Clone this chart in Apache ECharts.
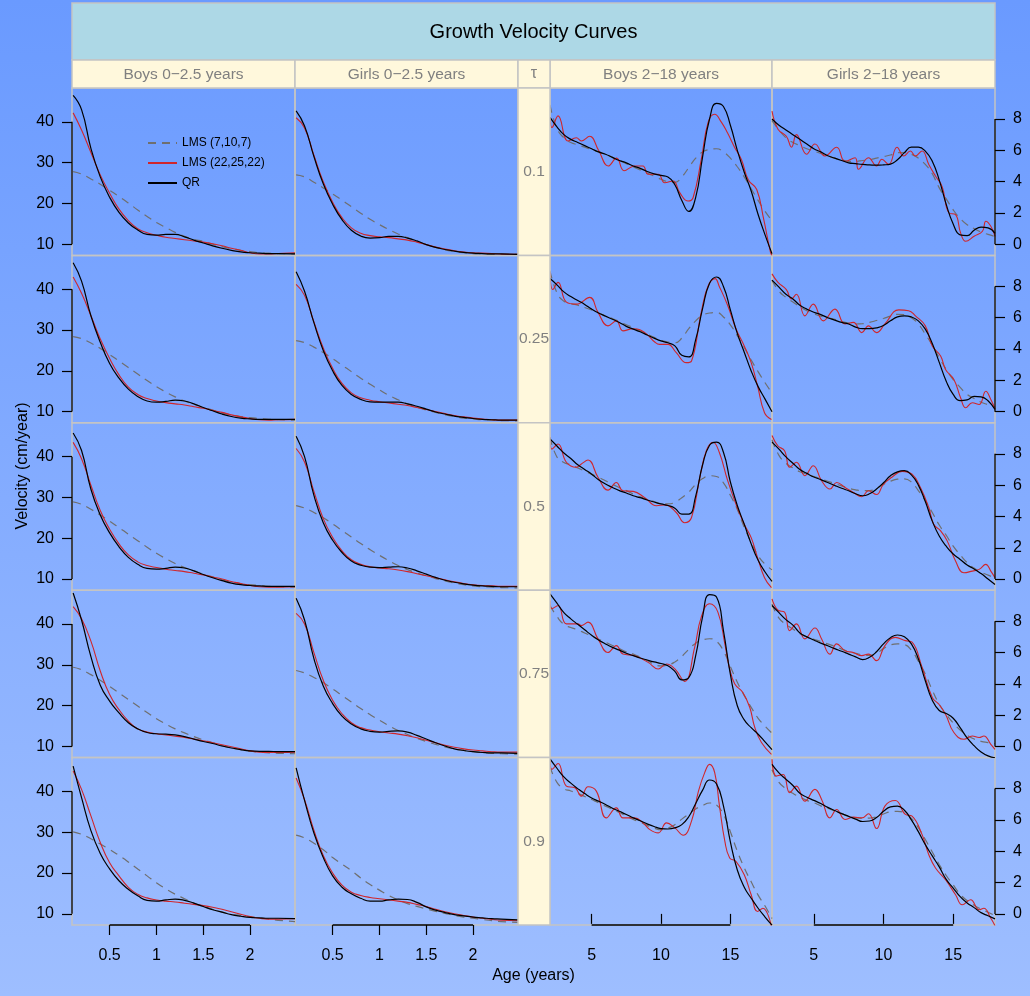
<!DOCTYPE html>
<html><head><meta charset="utf-8">
<script src="https://cdn.jsdelivr.net/npm/echarts@6/dist/echarts.min.js"></script>
<style>html,body{margin:0;padding:0;background:#fff;}#c{width:1030px;height:996px;}</style>
</head><body><div id="c"></div>
<script>
// ---------------- text ----------------
const chartTitle = 'Growth Velocity Curves';
const panelTitles = ['Boys 0\u22122.5 years', 'Girls 0\u22122.5 years', 'Boys 2\u221218 years', 'Girls 2\u221218 years'];
const tauLabels = ['0.1', '0.25', '0.5', '0.75', '0.9'];
const seriesNames = ['LMS (7,10,7)', 'LMS (22,25,22)', 'QR'];
const xTitle = 'Age (years)';
const yTitle = 'Velocity (cm/year)';

// ---------------- axes ----------------
const infantAgeTicks = [0.5, 1, 1.5, 2];
const childAgeTicks = [5, 10, 15];
const infantVelTicks = [10, 20, 30, 40];
const childVelTicks = [0, 2, 4, 6, 8];

// ---------------- ages ----------------
const ageInfant = [0.11,0.2,0.3,0.4,0.5,0.6,0.7,0.8,0.9,1.0,1.1,1.2,1.3,1.4,1.5,1.6,1.7,1.8,1.9,2.0,2.1,2.2,2.3,2.48];
const ageChild = [2,2.5,3,3.5,4,4.5,5,5.5,6,6.5,7,7.5,8,8.5,9,9.5,10,10.5,11,11.5,12,12.5,13,13.5,14,14.5,15,15.5,16,16.5,17,17.5,18];

// ---------------- Boys 0-2.5 (rows: tau 0.1 .. 0.9) ----------------
const lmsCoarseBoysInfant = [
  [27.8,27.2,26.0,24.7,23.2,21.7,20.1,18.4,16.8,15.3,14.1,12.9,11.9,11.2,10.7,10.0,9.4,8.9,8.5,8.2,7.9,7.8,7.7,7.6],
  [28.4,27.9,26.8,25.5,24.0,22.4,20.8,19.2,17.6,16.1,14.8,13.6,12.6,11.8,11.1,10.4,9.7,9.2,8.8,8.5,8.3,8.1,8.0,7.9],
  [28.9,28.3,27.1,25.7,24.2,22.6,21.0,19.4,17.8,16.3,15.0,13.8,12.8,12.0,11.2,10.5,9.8,9.3,8.9,8.6,8.4,8.2,8.1,8.0],
  [29.4,28.8,27.6,26.2,24.7,23.1,21.5,19.9,18.3,16.8,15.5,14.3,13.3,12.4,11.6,10.9,10.2,9.6,9.2,8.8,8.6,8.4,8.3,8.2],
  [30.1,29.5,28.4,27.1,25.8,24.3,22.7,21.0,19.3,17.6,16.1,14.8,13.7,12.6,11.8,11.1,10.4,9.9,9.6,9.3,9.0,8.7,8.4,8.1]
];
const lmsFineBoysInfant = [
  [42.2,38.0,32.5,27.0,22.5,18.6,15.8,13.8,12.8,12.2,11.7,11.4,11.1,10.8,10.5,10.1,9.6,9.0,8.5,7.9,7.6,7.6,7.7,7.9],
  [43.0,39.0,33.5,27.8,23.0,19.0,16.0,14.2,13.2,12.6,12.2,11.9,11.6,11.2,10.8,10.3,9.8,9.2,8.7,8.3,8.0,7.9,8.0,8.1],
  [43.5,39.5,33.0,26.8,22.2,18.6,15.9,14.2,13.3,12.8,12.4,12.1,11.8,11.4,11.0,10.5,10.0,9.4,8.9,8.4,8.1,8.0,8.0,8.1],
  [44.3,41.3,35.8,28.5,22.7,19.0,16.2,14.3,13.5,13.1,12.8,12.5,12.2,11.8,11.4,10.9,10.4,9.9,9.4,8.9,8.6,8.5,8.5,8.6],
  [45.0,40.5,34.0,27.5,22.5,19.3,16.5,14.8,13.9,13.4,13.1,12.9,12.6,12.3,12.0,11.6,11.1,10.5,9.9,9.3,8.9,8.7,8.7,8.8]
];
const qrBoysInfant = [
  [46.5,43.0,33.5,26.5,21.5,17.8,15.2,13.5,12.4,12.2,12.4,12.4,11.8,11.0,10.3,9.6,9.0,8.5,8.1,7.9,7.8,7.7,7.7,7.6],
  [46.5,42.0,33.5,27.0,21.8,18.2,15.5,13.7,12.6,12.3,12.5,12.8,12.6,11.9,11.0,10.2,9.4,8.8,8.4,8.2,8.1,8.1,8.1,8.1],
  [45.8,41.5,32.0,25.7,21.3,17.9,15.3,13.6,12.6,12.4,12.6,12.9,12.7,12.0,11.1,10.3,9.6,9.0,8.6,8.4,8.3,8.2,8.2,8.2],
  [47.6,41.0,32.0,25.0,21.1,18.2,15.8,14.3,13.4,13.1,13.0,12.8,12.4,11.8,11.2,10.7,10.1,9.6,9.2,8.9,8.8,8.8,8.7,8.7],
  [46.2,38.5,30.4,24.8,21.0,18.1,16.0,14.4,13.3,13.1,13.4,13.6,13.3,12.6,11.8,11.0,10.4,9.8,9.4,9.1,9.0,8.9,8.9,8.8]
];

// ---------------- Girls 0-2.5 ----------------
const lmsCoarseGirlsInfant = [
  [27.0,26.5,25.2,23.8,22.3,20.8,19.2,17.6,16.1,14.8,13.6,12.5,11.6,10.7,9.9,9.2,8.6,8.2,7.9,7.7,7.6,7.5,7.5,7.5],
  [27.4,26.9,25.8,24.5,23.0,21.4,19.8,18.2,16.7,15.3,14.0,12.9,11.9,11.1,10.4,9.8,9.2,8.8,8.4,8.2,8.0,7.9,7.8,7.7],
  [28.0,27.4,26.3,25.0,23.5,21.9,20.3,18.7,17.2,15.8,14.5,13.3,12.3,11.5,10.8,10.1,9.5,9.0,8.6,8.3,8.1,8.0,7.9,7.8],
  [28.6,28.0,26.9,25.6,24.1,22.5,20.9,19.3,17.8,16.4,15.1,13.9,12.9,12.0,11.2,10.5,9.9,9.4,9.0,8.7,8.5,8.3,8.2,8.1],
  [29.3,28.6,27.3,25.7,23.8,22.2,20.6,18.8,17.2,15.8,14.5,13.4,12.5,11.8,11.2,10.6,10.1,9.6,9.2,8.9,8.6,8.3,8.1,7.9]
];
const lmsFineGirlsInfant = [
  [41.0,38.5,31.8,25.3,20.3,16.5,14.0,12.7,12.1,11.8,11.6,11.3,11.0,10.5,9.9,9.3,8.8,8.4,8.1,7.9,7.8,7.7,7.6,7.5],
  [41.2,38.5,32.0,25.6,20.6,16.9,14.6,13.4,12.8,12.4,12.1,11.8,11.5,11.0,10.5,10.0,9.5,9.0,8.7,8.4,8.2,8.0,7.9,7.9],
  [42.0,38.7,31.5,24.8,20.2,16.9,14.7,13.6,13.0,12.7,12.5,12.2,11.8,11.3,10.8,10.3,9.8,9.3,8.9,8.6,8.4,8.3,8.2,8.2],
  [42.6,40.0,33.0,26.2,21.3,18.0,15.8,14.6,14.0,13.6,13.3,13.0,12.6,12.1,11.5,10.9,10.3,9.8,9.4,9.1,8.9,8.7,8.6,8.6],
  [43.3,38.0,30.5,24.3,20.0,17.0,15.3,14.5,14.0,13.7,13.4,13.1,12.8,12.3,11.8,11.1,10.5,10.0,9.6,9.2,8.9,8.6,8.4,8.3]
];
const qrGirlsInfant = [
  [42.7,39.0,31.5,24.8,19.8,16.0,13.4,12.0,11.5,11.6,11.9,11.9,11.5,10.8,9.9,9.2,8.7,8.3,8.0,7.8,7.7,7.6,7.6,7.5],
  [44.3,39.5,31.8,25.0,20.0,16.4,14.2,13.0,12.4,12.3,12.3,12.3,11.9,11.3,10.6,9.9,9.4,8.9,8.6,8.3,8.1,8.0,7.9,7.9],
  [45.0,40.0,30.5,23.8,19.5,16.5,14.4,13.4,12.9,12.8,12.9,13.0,12.7,12.0,11.2,10.4,9.7,9.2,8.8,8.5,8.3,8.2,8.1,8.1],
  [46.3,41.0,31.5,24.8,20.5,17.4,15.5,14.3,13.7,13.5,13.7,13.8,13.5,12.7,11.8,10.9,10.1,9.4,9.0,8.7,8.5,8.4,8.4,8.3],
  [45.8,37.8,29.8,23.8,19.3,16.5,14.9,13.8,13.1,13.1,13.4,13.6,13.5,12.8,11.7,10.9,10.3,9.8,9.5,9.2,9.0,8.8,8.7,8.5]
];

// ---------------- Boys 2-18 ----------------
const lmsCoarseBoysChild = [
  [8.9,7.4,6.8,6.5,6.35,6.2,6.05,5.9,5.75,5.55,5.35,5.15,4.95,4.75,4.55,4.35,4.15,4.0,3.95,4.3,4.9,5.5,5.9,6.05,6.1,5.9,5.5,4.95,4.3,3.55,2.8,2.1,1.5],
  [9.0,7.6,7.05,6.9,6.8,6.65,6.5,6.3,6.12,5.95,5.75,5.55,5.37,5.15,4.95,4.75,4.55,4.45,4.4,4.7,5.3,5.8,6.15,6.3,6.33,6.05,5.55,4.85,4.1,3.3,2.55,1.85,1.2],
  [9.06,7.8,7.45,7.3,7.1,6.9,6.7,6.5,6.28,6.05,5.85,5.65,5.43,5.25,5.1,4.95,4.82,4.8,4.9,5.2,5.55,6.05,6.42,6.6,6.55,6.15,5.35,4.45,3.3,2.35,1.5,0.95,0.6],
  [9.0,8.3,7.8,7.6,7.45,7.25,7.05,6.85,6.66,6.45,6.25,6.05,5.9,5.7,5.5,5.25,5.15,5.2,5.4,5.75,6.2,6.6,6.8,6.88,6.72,6.1,5.1,4.1,3.25,2.5,1.8,1.3,0.85],
  [9.4,8.4,8.0,7.85,7.7,7.5,7.3,7.1,6.88,6.68,6.47,6.25,6.03,5.85,5.65,5.48,5.38,5.48,5.7,6.05,6.38,6.7,6.92,7.08,6.95,6.35,5.25,4.0,2.95,2.05,1.2,0.5,-0.3]
];
const qrBoysChild = [
  [8.1,7.5,7.0,6.7,6.5,6.3,6.1,5.9,5.75,5.55,5.35,5.2,5.0,4.85,4.65,4.5,4.4,4.3,3.8,2.8,2.1,3.0,5.6,8.0,9.0,8.8,7.6,6.0,4.6,3.4,1.9,0.6,-0.6],
  [8.5,8.1,7.65,7.35,7.1,6.85,6.55,6.3,6.1,5.9,5.7,5.45,5.27,5.1,4.9,4.7,4.52,4.4,4.2,3.6,3.5,4.6,6.6,8.2,8.6,8.0,6.5,5.0,3.8,2.6,1.6,0.8,0.0],
  [8.95,8.5,8.05,7.7,7.3,7.0,6.7,6.35,6.07,5.85,5.65,5.5,5.32,5.2,5.05,4.92,4.8,4.7,4.53,4.15,4.15,5.3,7.3,8.55,8.75,8.1,6.2,4.7,3.5,2.25,1.2,0.45,-0.15],
  [9.75,9.15,8.55,8.15,7.8,7.45,7.1,6.8,6.55,6.33,6.15,5.95,5.8,5.65,5.52,5.4,5.3,5.15,4.8,4.25,4.4,5.8,8.3,9.7,9.55,7.4,4.6,2.6,1.7,1.2,0.78,0.3,-0.2],
  [9.9,9.3,8.75,8.35,8.0,7.68,7.4,7.2,6.99,6.75,6.55,6.35,6.13,5.95,5.75,5.58,5.45,5.42,5.49,5.7,6.2,7.05,7.9,8.55,8.3,6.9,4.6,2.8,1.7,1.0,0.36,-0.2,-0.72]
];
const lmsFineBoysChild = [
  [[2,8.1],[2.14,7.46],[2.58,8.2],[3.3,6.6],[3.9,6.8],[4.26,6.6],[4.86,6.9],[5.5,6.0],[6.2,5.0],[6.8,5.5],[7.34,4.7],[8.1,5.0],[8.7,5.0],[9.07,4.47],[9.8,4.47],[10.27,3.93],[10.87,4.04],[11.35,3.3],[11.95,2.76],[12.31,2.97],[12.9,5.4],[13.4,7.8],[13.87,8.3],[14.35,7.8],[14.8,7.1],[15.3,6.2],[15.8,5.4],[16.3,4.1],[16.9,3.5],[17.4,1.6],[17.9,-0.55],[18,-0.7]],
  [[2,8.9],[2.2,7.8],[2.58,8.26],[3.18,7.0],[3.9,6.87],[4.86,7.3],[5.46,6.34],[6.18,5.48],[6.78,5.8],[7.26,5.16],[8,5.3],[8.83,5.05],[9.55,4.45],[9.9,4.3],[10.5,4.3],[11.1,3.77],[11.83,3.13],[12.2,3.24],[12.9,6.34],[13.4,8.04],[13.9,8.5],[14.2,8.0],[14.8,6.8],[15.4,5.3],[16.0,4.2],[16.5,3.13],[16.96,1.64],[17.46,-0.07],[17.96,-0.5]],
  [[2,9.06],[2.14,8.3],[2.58,8.63],[3.18,7.46],[3.9,7.14],[4.26,7.35],[4.74,7.6],[5.46,6.5],[6.18,5.68],[6.78,6.17],[7.26,5.64],[8,5.6],[8.83,5.2],[9.67,4.68],[10.27,4.74],[11.1,4.25],[11.7,3.6],[12.2,3.93],[12.8,6.5],[13.27,8.2],[13.75,8.74],[14.2,8.1],[14.8,6.3],[15.4,4.79],[16.0,3.5],[16.5,2.65],[16.96,1.37],[17.46,0.09],[17.96,-0.55]],
  [[2,9.33],[2.14,8.8],[2.58,9.0],[3.18,7.83],[4,7.83],[4.26,7.72],[4.74,7.94],[5.46,6.87],[6.18,6.0],[6.78,6.44],[7.26,5.9],[8.1,5.8],[9.07,5.37],[9.8,4.95],[10.4,5.27],[11.0,4.95],[11.7,4.16],[12.43,6.34],[12.9,8.26],[13.5,9.11],[14.1,8.58],[14.6,6.55],[14.95,4.95],[15.32,3.99],[15.9,3.45],[16.4,2.49],[16.76,1.21],[17.24,0.25],[17.96,-0.5]],
  [[2,9.87],[2.14,9.23],[2.58,9.6],[3.18,8.16],[3.8,8.05],[4.26,7.52],[4.74,8.12],[5.34,7.84],[6.06,6.13],[6.78,6.77],[7.26,6.13],[8.1,6.13],[8.7,5.81],[9.2,5.38],[9.8,5.17],[10.4,5.81],[11.0,5.49],[11.6,5.02],[12.2,5.92],[12.7,7.84],[13.15,9.02],[13.5,9.55],[13.87,9.02],[14.2,6.99],[14.6,4.64],[14.95,3.57],[15.4,3.36],[16.0,2.5],[16.5,1.22],[16.96,0.15],[17.34,0.36],[17.96,-0.8]]
];

// ---------------- Girls 2-18 ----------------
const lmsCoarseGirlsChild = [
  [7.9,7.3,6.8,6.5,6.3,6.1,5.95,5.8,5.65,5.5,5.4,5.3,5.3,5.35,5.4,5.5,5.6,5.7,5.85,5.85,5.75,5.5,5.1,4.5,3.6,2.9,2.2,1.65,1.25,1.0,0.78,0.63,0.5],
  [8.4,7.7,7.3,7.0,6.7,6.45,6.25,6.1,6.0,5.9,5.75,5.65,5.6,5.62,5.7,5.82,5.95,6.1,6.22,6.2,6.0,5.6,4.95,4.25,3.45,2.7,2.05,1.55,1.1,0.85,0.6,0.45,0.3],
  [8.9,7.9,7.4,7.1,6.85,6.7,6.55,6.4,6.25,6.1,5.95,5.8,5.7,5.65,5.65,5.8,6.05,6.25,6.38,6.4,6.2,5.65,5.0,4.25,3.45,2.8,2.1,1.55,1.05,0.7,0.45,0.25,0.08],
  [9.1,8.2,7.8,7.5,7.2,7.0,6.85,6.7,6.55,6.4,6.22,6.05,5.95,5.85,5.82,5.95,6.25,6.48,6.55,6.5,6.15,5.45,4.63,3.6,2.7,2.05,1.5,1.05,0.72,0.48,0.33,0.25,0.18],
  [9.2,8.4,8.0,7.7,7.45,7.25,7.1,6.9,6.75,6.58,6.4,6.22,6.13,6.1,6.12,6.2,6.38,6.52,6.55,6.45,6.1,5.5,4.75,3.95,3.15,2.45,1.85,1.25,0.85,0.55,0.3,0.1,-0.1]
];
const qrGirlsChild = [
  [8.0,7.6,7.3,7.0,6.7,6.4,6.1,5.9,5.65,5.5,5.35,5.2,5.15,5.1,5.07,5.05,5.07,5.12,5.4,5.85,6.2,6.2,5.95,5.3,4.1,2.55,1.3,0.6,0.55,0.9,1.1,1.05,0.7],
  [8.4,7.95,7.5,7.2,6.8,6.55,6.35,6.2,6.0,5.85,5.7,5.6,5.4,5.3,5.3,5.35,5.5,5.8,6.05,6.12,6.05,5.8,5.27,4.35,3.15,1.95,1.1,0.7,0.75,0.98,0.95,0.7,0.14],
  [8.75,8.3,7.8,7.4,7.0,6.75,6.52,6.35,6.17,5.98,5.8,5.64,5.45,5.32,5.45,5.75,6.15,6.6,6.85,6.92,6.65,6.0,4.95,3.7,2.75,2.1,1.6,1.25,0.9,0.65,0.35,0.0,-0.35],
  [9.0,8.55,8.1,7.75,7.25,7.0,6.8,6.6,6.43,6.25,6.08,5.9,5.72,5.55,5.7,6.05,6.55,6.95,7.12,7.0,6.55,5.6,4.2,2.95,2.3,2.1,1.8,1.2,0.55,0.05,-0.35,-0.6,-0.72],
  [9.55,9.0,8.6,8.2,7.7,7.45,7.25,7.05,6.8,6.6,6.4,6.23,6.05,5.9,5.93,6.15,6.55,6.83,6.88,6.62,6.0,5.25,4.42,3.7,3.0,2.2,1.65,1.1,0.7,0.4,0.08,-0.12,-0.32]
];
const lmsFineGirlsChild = [
  [[2,8.5],[2.43,7.35],[3.03,6.9],[3.4,6.2],[3.75,7.0],[4.48,5.75],[5.08,6.4],[5.8,5.64],[6.64,6.2],[7.24,5.3],[7.96,5.53],[8.2,4.79],[8.92,5.53],[9.5,5.0],[9.88,5.43],[10.37,5.1],[10.97,6.2],[11.45,5.64],[11.93,5.96],[12.29,5.64],[12.77,5.96],[13.25,5.1],[13.73,4.36],[14.2,3.7],[14.7,2.0],[15.17,1.9],[15.53,0.73],[15.9,0.19],[16.5,0.51],[17.1,0.83],[17.34,1.47],[17.7,1.15],[18,0.51]],
  [[2,8.8],[2.43,8.26],[3.03,7.8],[3.4,7.2],[3.75,7.5],[4.36,6.12],[4.96,6.87],[5.68,5.8],[6.52,6.55],[7.24,5.6],[7.84,5.7],[8.44,5.05],[8.92,5.48],[9.5,5.05],[10.1,5.6],[11.1,6.5],[11.8,6.45],[12.29,6.12],[13.0,5.48],[13.5,4.2],[14.1,3.56],[14.45,2.7],[15.05,2.06],[15.53,0.89],[15.9,0.25],[16.37,0.57],[16.86,0.46],[17.34,1.3],[17.7,0.78],[18,0.18]],
  [[2,9.17],[2.43,8.5],[2.9,8.2],[3.27,7.14],[3.75,7.46],[4.36,6.6],[4.96,7.24],[5.56,6.28],[6.16,5.75],[6.64,6.17],[7.24,5.85],[7.84,5.53],[8.44,5.26],[8.92,5.64],[9.5,5.4],[10.0,6.07],[10.6,6.5],[11.33,6.88],[12.05,6.7],[12.65,5.85],[13.25,4.57],[13.6,3.5],[14.1,3.08],[14.57,2.44],[15.17,1.15],[15.77,0.4],[16.37,0.51],[16.86,0.62],[17.34,0.94],[17.7,0.51],[18,0.09]],
  [[2,9.43],[2.43,8.7],[2.9,8.58],[3.27,7.4],[3.75,7.83],[4.36,6.87],[5.08,7.57],[5.56,6.87],[6.16,5.9],[6.64,6.55],[7.24,6.12],[7.84,6.0],[8.44,5.8],[8.92,5.9],[9.5,5.48],[10.1,6.44],[10.85,6.97],[11.57,6.76],[12.05,6.66],[12.77,5.05],[13.5,3.13],[13.97,2.7],[14.45,2.06],[15.05,0.89],[15.77,0.46],[16.37,0.67],[16.86,0.57],[17.2,0.67],[17.7,0.14],[18,-0.18]],
  [[2,9.87],[2.31,8.8],[2.8,8.9],[3.27,7.74],[3.75,8.16],[4.36,7.2],[5.08,7.95],[5.56,7.31],[6.16,6.13],[6.64,6.67],[7.24,6.03],[7.84,6.18],[8.44,6.13],[8.92,6.39],[9.5,5.45],[10.1,6.88],[10.85,7.24],[11.57,6.35],[12.05,6.24],[12.77,5.06],[13.25,3.78],[13.73,2.93],[14.45,2.18],[15.17,1.22],[15.65,0.58],[16.25,0.9],[16.86,0.26],[17.2,0.36],[17.7,-0.28],[18,-0.75]]
];

// ---------------- layout ----------------
const FONT = '"Liberation Sans", Arial, Helvetica, sans-serif';
const colLeft = [72, 295, 550, 772];
const colWidth = [223, 223, 222, 223];
const rowTop0 = 88, rowH = 167.4, nRows = 5;
const tauX = 518, tauW = 32;
const stripTop = 60, stripH = 28;
const titleTop = 3;
const infantXRange = [0.098, 2.48], childXRange = [2, 18];
const infantYRange = [7.25, 48.3], childYRange = [-0.71, 9.98];
const borderCol = '#c4c4c4';
const stripFill = '#fff8dc';
const stripText = '#808080';

const zip = (xs, ys) => xs.map((x, i) => [x, ys[i]]);

const grids = [], xAxes = [], yAxes = [], series = [];
for (let r = 0; r < nRows; r++) {
  for (let c = 0; c < 4; c++) {
    const gi = r * 4 + c;
    const infant = c < 2;
    grids.push({ left: colLeft[c], top: rowTop0 + r * rowH, width: colWidth[c], height: rowH,
      show: true, borderColor: borderCol, borderWidth: 1.5, backgroundColor: 'transparent' });
    const bottomRow = r === nRows - 1;
    xAxes.push({ gridIndex: gi, type: 'value',
      min: infant ? infantXRange[0] : childXRange[0], max: infant ? infantXRange[1] : childXRange[1],
      axisLine: { show: false }, splitLine: { show: false },
      axisTick: { show: bottomRow, customValues: infant ? infantAgeTicks : childAgeTicks, length: 10, inside: false, lineStyle: { color: '#000', width: 1.2 } },
      axisLabel: { show: bottomRow, customValues: infant ? infantAgeTicks : childAgeTicks, margin: 23, color: '#000', fontSize: 16, fontFamily: FONT }
    });
    const showY = (c === 0 || c === 3);
    yAxes.push({ gridIndex: gi, type: 'value', position: c === 3 ? 'right' : 'left',
      min: infant ? infantYRange[0] : childYRange[0], max: infant ? infantYRange[1] : childYRange[1],
      axisLine: { show: false }, splitLine: { show: false },
      axisTick: { show: showY, customValues: infant ? infantVelTicks : childVelTicks, length: 10, inside: false, lineStyle: { color: '#000', width: 1.2 } },
      axisLabel: { show: showY, customValues: infant ? infantVelTicks : childVelTicks, margin: 18, color: '#000', fontSize: 16, fontFamily: FONT }
    });
    let coarse, fine, qr;
    if (c === 0) { coarse = zip(ageInfant, lmsCoarseBoysInfant[r]); fine = zip(ageInfant, lmsFineBoysInfant[r]); qr = zip(ageInfant, qrBoysInfant[r]); }
    else if (c === 1) { coarse = zip(ageInfant, lmsCoarseGirlsInfant[r]); fine = zip(ageInfant, lmsFineGirlsInfant[r]); qr = zip(ageInfant, qrGirlsInfant[r]); }
    else if (c === 2) { coarse = zip(ageChild, lmsCoarseBoysChild[r]); fine = lmsFineBoysChild[r]; qr = zip(ageChild, qrBoysChild[r]); }
    else { coarse = zip(ageChild, lmsCoarseGirlsChild[r]); fine = lmsFineGirlsChild[r]; qr = zip(ageChild, qrGirlsChild[r]); }
    const base = { type: 'line', xAxisIndex: gi, yAxisIndex: gi, symbol: 'none', showSymbol: false, silent: true, clip: true, animation: false };
    series.push(Object.assign({}, base, { name: seriesNames[0], data: coarse, smooth: 0.5, z: 2,
      lineStyle: { color: '#6f6f6f', width: 1.2, type: [8, 6] }, itemStyle: { color: '#6f6f6f' } }));
    series.push(Object.assign({}, base, { name: seriesNames[1], data: fine, smooth: infant ? 0.5 : 0.45, z: 3,
      lineStyle: { color: '#d0262b', width: 1.1 }, itemStyle: { color: '#d0262b' } }));
    series.push(Object.assign({}, base, { name: seriesNames[2], data: qr, smooth: 0.5, z: 4,
      lineStyle: { color: '#000000', width: 1.2 }, itemStyle: { color: '#000000' } }));
  }
}

const chart = echarts.init(document.getElementById('c'), null, { renderer: 'canvas' });
chart.setOption({
  animation: false,
  backgroundColor: { type: 'linear', x: 0, y: 0, x2: 0, y2: 1, colorStops: [{ offset: 0, color: '#6a9aff' }, { offset: 1, color: '#9ebeff' }] },
  grid: grids, xAxis: xAxes, yAxis: yAxes, series: series,
  legend: { show: true, data: seriesNames, orient: 'vertical', left: 147, top: 137, padding: 0, itemWidth: 29, itemHeight: 10, itemGap: 8,
    selectedMode: false, itemStyle: { opacity: 0 },
    textStyle: { fontSize: 12, color: '#000', fontFamily: FONT } }
});

// ---------------- decorations (strips, titles, axis spines) ----------------
const els = [];
const fullLeft = colLeft[0], fullRight = colLeft[3] + colWidth[3];
els.push({ type: 'rect', shape: { x: fullLeft, y: titleTop, width: fullRight - fullLeft, height: stripTop - titleTop },
  style: { fill: '#add8e6', stroke: borderCol, lineWidth: 1.5 }, z: 10 });
els.push({ type: 'text', x: (fullLeft + fullRight) / 2, y: (titleTop + stripTop) / 2 + 1,
  style: { text: chartTitle, fill: '#000', font: '20px ' + FONT, align: 'center', verticalAlign: 'middle' }, z: 11 });
for (let c = 0; c < 4; c++) {
  els.push({ type: 'rect', shape: { x: colLeft[c], y: stripTop, width: colWidth[c], height: stripH },
    style: { fill: stripFill, stroke: borderCol, lineWidth: 1.5 }, z: 10 });
  els.push({ type: 'text', x: colLeft[c] + colWidth[c] / 2, y: stripTop + stripH / 2 + 1,
    style: { text: panelTitles[c], fill: stripText, font: '15.5px ' + FONT, align: 'center', verticalAlign: 'middle' }, z: 11 });
}
els.push({ type: 'rect', shape: { x: tauX, y: stripTop, width: tauW, height: stripH },
  style: { fill: stripFill, stroke: borderCol, lineWidth: 1.5 }, z: 10 });
els.push({ type: 'text', x: tauX + tauW / 2, y: stripTop + stripH / 2,
  style: { text: '\u03c4', fill: stripText, font: '16px ' + FONT, align: 'center', verticalAlign: 'middle' }, z: 11 });
for (let r = 0; r < nRows; r++) {
  const top = rowTop0 + r * rowH;
  els.push({ type: 'rect', shape: { x: tauX, y: top, width: tauW, height: rowH },
    style: { fill: stripFill, stroke: borderCol, lineWidth: 1.5 }, z: 10 });
  els.push({ type: 'text', x: tauX + tauW / 2, y: top + rowH / 2,
    style: { text: tauLabels[r], fill: stripText, font: '15.5px ' + FONT, align: 'center', verticalAlign: 'middle' }, z: 11 });
}
// axis titles
els.push({ type: 'text', x: (fullLeft + fullRight) / 2, y: 976,
  style: { text: xTitle, fill: '#000', font: '16px ' + FONT, align: 'center', verticalAlign: 'middle' }, z: 11 });
els.push({ type: 'text', x: 23, y: (titleTop + rowTop0 + nRows * rowH) / 2 + 2, rotation: Math.PI / 2,
  style: { text: yTitle, fill: '#000', font: '16px ' + FONT, align: 'center', verticalAlign: 'middle' }, z: 11 });

// axis spines spanning the tick range only (R style), computed via axis scales
for (let r = 0; r < nRows; r++) {
  const gl = r * 4, gr = r * 4 + 3;
  const yA = chart.convertToPixel({ yAxisIndex: gl }, infantVelTicks[0]);
  const yB = chart.convertToPixel({ yAxisIndex: gl }, infantVelTicks[infantVelTicks.length - 1]);
  const xl = chart.convertToPixel({ xAxisIndex: gl }, infantXRange[0]);
  els.push({ type: 'line', shape: { x1: xl, y1: yA, x2: xl, y2: yB }, style: { stroke: '#000', lineWidth: 1.3 }, z: 12 });
  const yC = chart.convertToPixel({ yAxisIndex: gr }, childVelTicks[0]);
  const yD = chart.convertToPixel({ yAxisIndex: gr }, childVelTicks[childVelTicks.length - 1]);
  const xr = chart.convertToPixel({ xAxisIndex: gr }, childXRange[1]);
  els.push({ type: 'line', shape: { x1: xr, y1: yC, x2: xr, y2: yD }, style: { stroke: '#000', lineWidth: 1.3 }, z: 12 });
}
for (let c = 0; c < 4; c++) {
  const gi = (nRows - 1) * 4 + c;
  const ticks = c < 2 ? infantAgeTicks : childAgeTicks;
  const yMin = c < 2 ? infantYRange[0] : childYRange[0];
  const yb = chart.convertToPixel({ yAxisIndex: gi }, yMin);
  const xa = chart.convertToPixel({ xAxisIndex: gi }, ticks[0]);
  const xb = chart.convertToPixel({ xAxisIndex: gi }, ticks[ticks.length - 1]);
  els.push({ type: 'line', shape: { x1: xa, y1: yb, x2: xb, y2: yb }, style: { stroke: '#000', lineWidth: 1.3 }, z: 12 });
}
chart.setOption({ graphic: { elements: els } });
</script>
</body></html>
